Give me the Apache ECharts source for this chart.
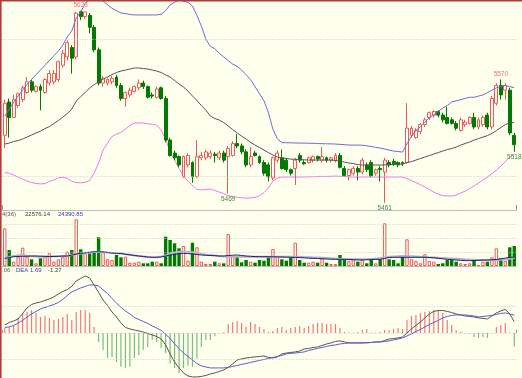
<!DOCTYPE html>
<html><head><meta charset="utf-8">
<script src="https://cdn.jsdelivr.net/npm/echarts@6/dist/echarts.min.js"></script>
<style>html,body{margin:0;padding:0;background:#FFFFEE;overflow:hidden}#c{width:522px;height:378px}</style>
</head><body><div id="c"></div><script>
const days = [1,2,3,4,5,6,7,8,9,10,11,12,13,14,15,16,17,18,19,20,21,22,23,24,25,26,27,28,29,30,31,32,33,34,35,36,37,38,39,40,41,42,43,44,45,46,47,48,49,50,51,52,53,54,55,56,57,58,59,60,61,62,63,64,65,66,67,68,69,70,71,72,73,74,75,76,77,78,79,80,81,82,83,84,85,86,87,88,89,90,91,92,93,94,95,96,97,98,99,100,101,102,103,104,105,106,107,108,109,110,111,112,113,114,115];

const opens = [5518,5546,5533,5543,5548,5554,5563,5555,5559,5554,
5562,5563,5565,5577,5584,5592,5584,5622,5618,5619,
5609,5590,5562,5562,5563,5567,5560,5549,5552,5555,
5558,5562,5559,5552,5550,5558,5549,5514,5503,5500,
5483,5493,5495,5483,5499,5499,5500,5502,5499,5503,
5500,5501,5511,5509,5504,5493,5503,5500,5495,5493,
5482,5497,5499,5497,5489,5490,5501,5495,5495,5497,
5500,5497,5499,5497,5497,5501,5490,5484,5486,5490,
5487,5493,5495,5486,5490,5487,5495,5496,5495,5495,
5495,5518,5516,5521,5527,5533,5535,5538,5535,5533,
5531,5528,5522,5527,5528,5533,5525,5527,5535,5525,
5545,5560,5556,5556,5518];
const closes = [5545,5533,5548,5553,5558,5563,5556,5559,5556,5565,
5570,5570,5580,5587,5596,5583,5621,5618,5622,5609,
5590,5562,5566,5565,5566,5560,5549,5554,5556,5559,
5562,5559,5550,5551,5557,5549,5514,5501,5499,5493,
5500,5501,5483,5500,5501,5504,5503,5501,5503,5497,
5507,5511,5509,5504,5493,5500,5501,5495,5486,5483,
5499,5503,5490,5489,5486,5497,5497,5494,5499,5500,
5498,5500,5497,5499,5501,5491,5484,5489,5490,5487,
5497,5489,5484,5489,5489,5497,5493,5494,5493,5494,
5524,5524,5522,5527,5531,5537,5538,5535,5531,5528,
5528,5524,5531,5529,5533,5525,5531,5533,5525,5549,
5560,5552,5560,5520,5510];
const lows = [5507,5516,5533,5541,5546,5553,5554,5554,5539,5553,
5560,5561,5563,5575,5581,5570,5582,5615,5616,5604,
5588,5560,5559,5560,5561,5558,5547,5542,5550,5554,
5556,5557,5549,5549,5549,5548,5512,5500,5497,5491,
5482,5491,5478,5482,5497,5497,5498,5495,5497,5495,
5469,5500,5507,5502,5491,5491,5500,5494,5484,5479,
5480,5495,5489,5487,5484,5476,5495,5493,5494,5495,
5496,5495,5495,5495,5495,5490,5483,5480,5484,5480,
5485,5487,5483,5484,5479,5461,5491,5492,5491,5492,
5494,5516,5515,5519,5525,5531,5533,5533,5529,5527,
5527,5522,5521,5525,5527,5523,5523,5525,5523,5523,
5543,5548,5548,5518,5504];
const highs = [5548,5549,5552,5554,5560,5567,5565,5560,5561,5566,
5573,5573,5581,5590,5598,5594,5622,5623,5622,5621,
5611,5592,5568,5566,5568,5569,5562,5555,5558,5560,
5565,5564,5560,5554,5559,5559,5551,5516,5505,5501,
5501,5503,5496,5514,5504,5506,5505,5504,5505,5505,
5509,5513,5519,5511,5506,5508,5505,5501,5497,5495,
5500,5505,5506,5499,5490,5499,5503,5497,5500,5501,
5501,5508,5500,5500,5503,5503,5492,5490,5492,5492,
5499,5495,5497,5490,5492,5499,5497,5498,5496,5496,
5545,5526,5524,5528,5533,5538,5539,5539,5537,5542,
5533,5530,5533,5531,5534,5537,5533,5535,5537,5551,
5562,5565,5562,5558,5520];

const bollUpper = [5534,5540,5546,5551,5556,5561,5565,5569,5573,5577,
5581,5585,5589,5594,5601,5606,5617,5622,5629,5633,
5635,5635,5631,5628,5625,5623,5621,5620.6,5619.8,5619.4,
5619.4,5619.4,5619.4,5619.4,5619.4,5620,5623,5628,5630,5632,
5631,5630,5627,5619,5610,5599,5593,5591,5587,5584,
5581,5578,5576,5573,5569,5565,5559,5553,5547,5537,
5523,5515,5511.8,5511.7,5511.6,5511.5,5511.4,5511.4,5511.3,5511.2,
5511.0,5510.9,5510.8,5510.7,5510.6,5510.3,5510.1,5509.7,5509.7,5509.7,
5509.6,5509.1,5508.5,5507.8,5507.2,5506.4,5505.5,5504.7,5504.3,5503.8,
5511,5517,5522,5525,5529,5533,5535,5538,5541,5543,
5546,5547,5548,5549,5550,5550,5551,5552,5554,5556,
5558,5559,5560,5559,5558];
const bollMid = [5510.6,5511.4,5512.7,5513.5,5514.8,5516.5,5518.2,5519.9,5521.5,5523.6,
5525.3,5527.9,5530.4,5533.3,5536.3,5540.1,5546.8,5550.6,5554.0,5557.8,
5560.7,5562.9,5565.4,5567.1,5569.2,5570.9,5572.1,5573.0,5573.8,5574.7,
5574.7,5574.2,5573.8,5573.0,5572.1,5570.9,5568.8,5567.1,5564.1,5561.2,
5558.6,5555.3,5551.1,5547.3,5543.0,5539.2,5534.2,5532.1,5530.8,5528.7,
5525.8,5522.8,5519.9,5517.3,5514.8,5512.0,5509.7,5507.6,5505.5,5503.4,
5501.3,5499.6,5498.8,5498.4,5497.9,5497.7,5497.5,5497.3,5497.1,5497.1,
5497.1,5497.1,5497.1,5497.1,5496.7,5496.2,5495.4,5494.6,5494.1,5493.3,
5492.9,5492.9,5492.9,5492.9,5492.9,5493.0,5493.2,5493.4,5493.5,5493.7,
5495.0,5495.8,5497.1,5498.4,5499.6,5500.9,5502.1,5503.4,5504.7,5505.9,
5506.8,5508.0,5509.7,5511.0,5512.3,5513.9,5515.2,5516.5,5517.7,5519.4,
5522.0,5524.5,5527.0,5528.3,5528.7];
const bollLower = [5486.5,5486.1,5484.4,5482.8,5481.1,5479.4,5478.1,5477.4,5477.0,5477.3,
5479.0,5480.4,5482.1,5482.6,5481.7,5479.2,5478.1,5477.9,5478.4,5479.8,
5486.1,5494.6,5505.5,5511.4,5516.9,5519.0,5520.3,5523.2,5526.2,5528.3,
5528.3,5528.3,5527.7,5527.2,5526.6,5522.4,5514.8,5503.8,5497.1,5489.9,
5483.6,5479.4,5476.0,5472.2,5472.0,5472.2,5472.6,5471.4,5470.1,5468.8,
5467.2,5466.3,5465.7,5465.3,5465.0,5465.2,5465.6,5467.2,5469.7,5473.5,
5479.4,5481.9,5482.8,5482.8,5482.8,5482.8,5482.8,5482.8,5482.9,5483.0,
5483.2,5483.3,5483.3,5483.4,5483.6,5483.4,5483.2,5482.9,5482.8,5482.8,
5482.8,5482.8,5482.8,5482.8,5482.8,5482.8,5482.8,5482.8,5482.8,5482.8,
5481.5,5479.8,5478.1,5476.4,5474.3,5472.2,5470.1,5468.3,5467.2,5466.9,
5466.7,5467.6,5469.3,5470.9,5473.1,5475.2,5477.7,5480.2,5482.8,5485.7,
5488.7,5492.0,5495.8,5499.6,5502.1];

const volumes = [102300,43400,11700,25200,49700,25200,18200,7300,20900,25200,
34500,11700,18200,25200,38800,43400,126700,45300,34500,34500,
38800,77900,38800,18200,16300,29900,23600,25200,9000,9000,
11700,7300,7300,11700,11700,7300,79500,70600,61600,48000,
54300,14400,63200,50800,11700,5400,5400,11700,7300,7300,
86800,27100,25200,10000,16300,11700,9000,16300,14400,27100,
46100,27100,18200,14400,23600,63200,16300,9000,9000,11700,
9000,20900,9000,5400,5400,29900,16300,13000,18200,11700,
16300,7300,18200,7300,18200,115900,18200,16300,7300,27100,
72500,18200,13600,7300,31800,13600,11700,5400,7300,16300,
16300,11700,7300,5400,7300,16300,2700,11700,11700,23600,
48000,20900,14400,50800,54300];
const volMa1 = [20900,24400,27100,29300,29000,27700,26600,25800,25200,25500,
25800,26300,26600,26900,27100,29900,32600,33900,35300,36600,
38000,38800,38000,36600,35300,34500,33900,32000,30400,28500,
27100,25800,24400,23600,23600,25800,28500,33900,36600,38500,
38800,38800,37500,35300,32600,30700,29900,28500,27100,25800,
25400,25300,25200,25200,25100,25100,25200,25200,25200,25300,
25300,25200,25200,25100,25100,25100,25000,24400,23900,23300,
22800,22300,21700,20900,20400,19500,19000,18200,18200,18200,
18200,18700,19300,20100,20900,23100,25000,25800,26300,26900,
27100,26600,25800,25000,24200,23600,23100,22300,21700,20900,
20400,19800,19000,18200,17600,17100,16300,16300,16300,16300,
16300,16800,17600,19500,22576.14];
const volMa2 = [20400,23100,25200,25800,26300,26600,27100,27100,26600,26100,
25500,25800,26300,26900,27100,29300,32600,34500,35800,37200,
38500,38800,38000,36600,35300,34500,33700,32000,30400,28800,
27100,25800,24400,23600,23600,24400,27100,29900,31200,33900,
34500,33700,32600,31200,29900,29300,28500,28000,27100,27100,
28500,29300,29900,28500,27100,26300,25500,25200,25200,25200,
25000,24700,24400,23900,23600,23300,22800,22000,21400,20900,
20400,19800,19000,18500,18200,18200,17900,17600,17100,16600,
16300,16800,17400,17900,18200,20400,23100,23600,23600,23600,
23600,23600,23600,23600,23600,23100,22300,20900,19500,18200,
17400,16300,15500,14700,14400,14900,15500,16000,16300,16800,
17600,19500,21500,23000,24390.85];

const dif = [0.75,0.99,1.13,1.32,1.84,2.36,2.69,2.83,2.92,3.07,
3.21,3.40,3.68,3.92,4.10,4.39,4.91,5.14,5.38,5.19,
4.53,3.82,3.11,2.59,1.98,1.51,0.94,0.52,0.38,0.28,
0.19,0.09,-0.05,-0.19,-0.33,-0.57,-1.13,-1.98,-2.74,-3.30,
-3.77,-4.06,-4.15,-4.15,-4.10,-4.01,-3.87,-3.77,-3.63,-3.49,
-3.25,-2.92,-2.55,-2.45,-2.36,-2.31,-2.26,-2.22,-2.17,-2.31,
-2.36,-2.26,-1.98,-1.89,-1.84,-1.79,-1.70,-1.51,-1.46,-1.37,
-1.32,-1.18,-1.04,-0.94,-0.80,-0.75,-0.85,-0.94,-0.94,-0.94,
-0.94,-0.94,-0.90,-0.85,-0.85,-0.71,-0.57,-0.52,-0.47,-0.38,
0.00,0.38,0.71,1.04,1.42,1.79,2.03,2.12,2.12,2.03,
1.93,1.79,1.70,1.60,1.56,1.51,1.42,1.37,1.32,1.60,
1.89,2.08,2.22,1.79,1.06];
const dea = [0.52,0.57,0.71,0.94,1.18,1.51,1.79,2.03,2.26,2.41,
2.55,2.69,2.88,3.16,3.54,3.87,4.06,4.25,4.39,4.53,
4.53,4.43,4.06,3.73,3.25,2.83,2.41,2.08,1.79,1.46,
1.27,1.08,0.90,0.66,0.47,0.24,-0.14,-0.52,-1.04,-1.46,
-1.89,-2.22,-2.55,-2.88,-3.11,-3.21,-3.30,-3.30,-3.30,-3.30,
-3.25,-3.16,-3.07,-2.97,-2.88,-2.78,-2.69,-2.59,-2.50,-2.41,
-2.31,-2.22,-2.12,-1.98,-1.93,-1.89,-1.84,-1.79,-1.65,-1.56,
-1.46,-1.37,-1.27,-1.18,-1.13,-1.04,-0.99,-0.94,-0.94,-0.94,
-0.94,-0.90,-0.90,-0.85,-0.85,-0.80,-0.75,-0.66,-0.57,-0.47,
-0.28,-0.09,0.14,0.33,0.57,0.80,0.99,1.18,1.42,1.56,
1.65,1.70,1.70,1.70,1.65,1.60,1.51,1.56,1.60,1.65,
1.75,1.84,1.89,1.79,1.69];
const macdHist = [0.47,0.57,0.75,1.42,1.89,1.98,2.17,1.89,1.51,1.60,
1.42,1.23,1.32,1.51,1.79,1.23,1.98,2.17,2.17,1.89,
0.57,-0.85,-1.60,-2.36,-2.26,-2.74,-3.20,-3.30,-3.20,-2.36,
-2.08,-1.60,-1.32,-0.66,-0.85,-1.42,-1.89,-2.90,-3.30,-3.80,
-3.30,-3.10,-3.20,-2.40,-1.30,-0.66,-0.66,-0.30,-0.05,0.10,
0.85,1.04,1.13,0.94,0.57,1.04,0.85,0.57,0.38,0.10,
0.19,0.47,0.57,0.28,0.47,0.57,0.66,0.47,0.66,0.85,
0.94,0.94,0.85,0.85,0.85,0.50,0.10,0.05,0.05,0.10,
0.28,0.38,0.05,0.05,0.10,0.28,0.28,0.38,0.47,0.38,
1.23,1.60,1.70,1.89,1.98,2.08,2.17,2.17,1.89,1.23,
0.75,0.28,0.10,-0.05,-0.05,-0.38,-0.47,-0.38,-0.47,-0.05,
0.57,0.75,0.94,0.05,-1.27];

const markIdx = [17, 111, 50, 85, 114];
const markText = ['5623', '5570', '5469', '5461', '5518'];
const markSide = ['high', 'high', 'low', 'low', 'low'];
const priceGrid = [5599, 5483.6];
const volGrid = [38000, 76000, 114000];
const macdGrid = [2.5, 0, -2.5];
const volHeader = '4(36)';
const difHeader = '.06';
const deaName = 'DEA';
const dividerIdx = 90;

const BG = '#FFFFEE';
const RED = '#EE5A5A';
const GREEN = '#007A00';
const FONT = 'Liberation Sans, Arial, sans-serif';

const candleData = opens.map((o, i) => [o, closes[i], lows[i], highs[i]]);
const volData = volumes.map((v, i) => {
  const up = closes[i] > opens[i];
  return { value: v, itemStyle: up ? { color: BG, borderColor: RED, borderWidth: 1 } : { color: GREEN, borderColor: GREEN, borderWidth: 0 } };
});
const histData = macdHist.map(v => ({ value: v, itemStyle: { color: v >= 0 ? '#F07A7A' : '#78BE78' } }));
const markData = markIdx.map((idx, k) => {
  const isHigh = markSide[k] === 'high';
  return {
    coord: [idx, isHigh ? highs[idx] : lows[idx]],
    value: markText[k],
    label: { position: isHigh ? 'top' : 'bottom', color: isHigh ? '#F07070' : '#3E8E3E' }
  };
});
const dotted = { color: '#C8C8C8', type: [1, 2], width: 1 };
const gl = (i) => ({ left: 2.5, width: 514, top: [0, 210, 270][i], height: [210, 56, 108][i] });
const last = volMa1.length - 1;

const chart = echarts.init(document.getElementById('c'), null, { renderer: 'canvas' });
chart.setOption({
  backgroundColor: BG,
  animation: false,
  grid: [gl(0), gl(1), gl(2)],
  xAxis: [0, 1, 2].map(i => ({
    type: 'category', gridIndex: i, data: days, boundaryGap: true,
    axisLine: { show: i < 2, lineStyle: { color: '#BDBDBD', width: 1 } },
    axisTick: { show: i !== 1, inside: true, length: i === 0 ? 5 : 3, interval: (idx) => idx === dividerIdx, lineStyle: { color: '#909090' } },
    axisLabel: { show: false }, splitLine: { show: false }
  })),
  yAxis: [
    { type: 'value', gridIndex: 0, min: 5455, max: 5632, show: false, splitLine: { show: false } },
    { type: 'value', gridIndex: 1, min: 0, max: 152000, show: false, splitLine: { show: false } },
    { type: 'value', gridIndex: 2, min: -4.25, max: 5.94, show: false, splitLine: { show: false } }
  ],
  series: [
    { type: 'line', xAxisIndex: 0, yAxisIndex: 0, data: bollLower, symbol: 'none', silent: true, lineStyle: { color: '#F277F2', width: 1 }, z: 1,
      markLine: { silent: true, symbol: 'none', label: { show: false }, lineStyle: dotted, data: priceGrid.map(v => ({ yAxis: v })) } },
    { type: 'candlestick', xAxisIndex: 0, yAxisIndex: 0, data: candleData, barWidth: 3.4, z: 2,
      itemStyle: { color: BG, color0: GREEN, borderColor: RED, borderColor0: GREEN, borderWidth: 1 },
      markPoint: { symbol: 'circle', symbolSize: 0.1, silent: true, data: markData,
        label: { show: true, fontSize: 6.5, fontFamily: FONT, distance: 2, formatter: p => p.value } } },
    { type: 'line', xAxisIndex: 0, yAxisIndex: 0, data: bollMid, symbol: 'none', silent: true, lineStyle: { color: '#555555', width: 1 }, z: 3 },
    { type: 'line', xAxisIndex: 0, yAxisIndex: 0, data: bollUpper, symbol: 'none', silent: true, lineStyle: { color: '#6B6BD6', width: 1 }, z: 3 },

    { type: 'bar', xAxisIndex: 1, yAxisIndex: 1, data: volData, barWidth: 3.4, z: 2,
      markLine: { silent: true, symbol: 'none', label: { show: false }, lineStyle: dotted, data: volGrid.map(v => ({ yAxis: v })) } },
    { type: 'line', xAxisIndex: 1, yAxisIndex: 1, data: volMa1, symbol: 'none', silent: true, lineStyle: { color: '#B4B4C6', width: 2 }, z: 3 },
    { type: 'line', xAxisIndex: 1, yAxisIndex: 1, data: volMa2, symbol: 'none', silent: true, lineStyle: { color: '#1E1E7A', width: 1 }, z: 4 },

    { type: 'bar', xAxisIndex: 2, yAxisIndex: 2, data: histData, barWidth: 1.2, z: 2,
      markLine: { silent: true, symbol: 'none', label: { show: false }, lineStyle: dotted, data: macdGrid.map(v => ({ yAxis: v })) } },
    { type: 'line', xAxisIndex: 2, yAxisIndex: 2, data: dif, symbol: 'none', silent: true, lineStyle: { color: '#555555', width: 1 }, z: 3 },
    { type: 'line', xAxisIndex: 2, yAxisIndex: 2, data: dea, symbol: 'none', silent: true, lineStyle: { color: '#5C5CD2', width: 1 }, z: 3 }
  ],
  graphic: [
    { type: 'text', left: 2, top: 211, z: 10, style: { text: volHeader, fill: '#505050', fontSize: 6, fontFamily: FONT } },
    { type: 'text', left: 25, top: 211, z: 10, style: { text: volMa1[last].toFixed(2), fill: '#404040', fontSize: 6, fontFamily: FONT } },
    { type: 'text', left: 58, top: 211, z: 10, style: { text: volMa2[last].toFixed(2), fill: '#3535C0', fontSize: 6, fontFamily: FONT } },
    { type: 'text', left: 2, top: 267, z: 10, style: { text: difHeader, fill: '#606060', fontSize: 6, fontFamily: FONT } },
    { type: 'text', left: 16, top: 267, z: 10, style: { text: deaName + ' ' + dea[last].toFixed(2), fill: '#3535C0', fontSize: 6, fontFamily: FONT } },
    { type: 'text', left: 48, top: 267, z: 10, style: { text: macdHist[last].toFixed(2), fill: '#404040', fontSize: 6, fontFamily: FONT } },
    { type: 'rect', left: 0, top: 0, z: 20, shape: { width: 1.6, height: 378 }, style: { fill: '#B23A3A' } },
    { type: 'rect', left: 0, top: 0, z: 20, shape: { width: 522, height: 1.4 }, style: { fill: '#B23A3A' } }
  ]
});
</script></body></html>
